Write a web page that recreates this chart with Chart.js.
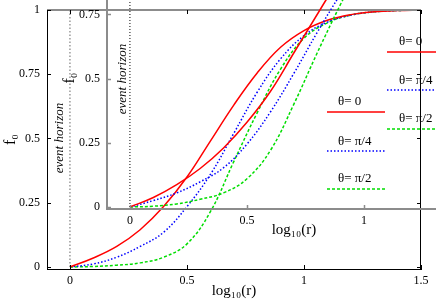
<!DOCTYPE html>
<html>
<head>
<meta charset="utf-8">
<script src="https://cdn.jsdelivr.net/npm/chart.js@4.4.1/dist/chart.umd.min.js"></script>
<style>
  html, body { margin: 0; padding: 0; background: #fff; overflow: hidden; }
  #wrap { position: relative; width: 436px; height: 305px; overflow: hidden; }
  #mainChart { position: absolute; left: 0; top: 0; }
  #insetChart { position: absolute; left: 47px; top: -24px; }
</style>
</head>
<body>
<div id="wrap">
  <canvas id="mainChart" width="436" height="305" style="width:436px;height:305px"></canvas>
  <canvas id="insetChart" width="444" height="265" style="width:444px;height:265px"></canvas>
</div>
<script>
// main plot: f0 against log10(r)
const logR = [0, 0.1, 0.2, 0.3, 0.4, 0.5, 0.6, 0.7, 0.8, 0.9, 1.0, 1.1, 1.2, 1.3, 1.4, 1.5];
const f0Theta0 = [0, 0.035, 0.08, 0.145, 0.235, 0.35, 0.49, 0.63, 0.755, 0.855, 0.92, 0.96, 0.982, 0.993, 0.998, 1.0];
const f0ThetaPi4 = [0, 0.012, 0.038, 0.08, 0.135, 0.235, 0.36, 0.52, 0.68, 0.81, 0.9, 0.953, 0.98, 0.993, 0.998, 1.0];
const f0ThetaPi2 = [0, 0.002, 0.007, 0.016, 0.038, 0.09, 0.215, 0.41, 0.6, 0.77, 0.89, 0.95, 0.98, 0.993, 0.998, 1.0];

// inset plot
const insetLogR = [0, 0.1, 0.2, 0.3, 0.4, 0.5, 0.6, 0.7, 0.8, 0.9, 1.0];
const insetTheta0 = [0, 0.037, 0.087, 0.15, 0.23, 0.33, 0.45, 0.6, 0.75, 0.9, 1.05];
const insetThetaPi4 = [0, 0.025, 0.055, 0.098, 0.153, 0.245, 0.37, 0.52, 0.68, 0.83, 0.97];
const insetThetaPi2 = [0, 0.003, 0.012, 0.03, 0.055, 0.11, 0.22, 0.4, 0.6, 0.79, 0.97];

const xTicks = [0, 0.5, 1, 1.5];
const yTicks = [0, 0.25, 0.5, 0.75, 1];
const insetYTicks = [0, 0.25, 0.5, 0.75];
const labels = ['θ= 0', 'θ= π/4', 'θ= π/2'];
const horizonLabel = 'event horizon';

const serif = 'Liberation Serif';
const colors = ['#ff0000', '#0000ff', '#00dd00'];
const dashes = [[], [1.5, 2], [3, 2]];

function pts(xs, ys) {
  return xs.map((x, i) => ({x: x, y: ys[i]}));
}

function curve(xs, ys, i) {
  return {
    data: pts(xs, ys),
    borderColor: colors[i],
    borderDash: dashes[i],
    borderWidth: 1.5,
    pointRadius: 0,
    showLine: true,
    tension: 0.4
  };
}

function axisTicks(list) {
  return s => { s.ticks = list.map(v => ({value: v})); };
}

// fixed axis sizes, no extra label padding so the plot box lands where it should
function fixX(h) {
  return s => { s.height = h; s.paddingLeft = 0; s.paddingRight = 0; };
}
function fixY(w) {
  return s => { s.width = w; s.paddingTop = 0; s.paddingBottom = 0; };
}

function legend(ctx, x0, textX, rows) {
  ctx.font = '13px "' + serif + '"';
  ctx.fillStyle = '#000';
  ctx.textAlign = 'left';
  ctx.textBaseline = 'middle';
  rows.forEach((r, i) => {
    ctx.fillText(labels[i], textX, r[0]);
    ctx.strokeStyle = colors[i];
    ctx.setLineDash(dashes[i]);
    ctx.lineWidth = 1.5;
    ctx.beginPath();
    ctx.moveTo(x0, r[1]);
    ctx.lineTo(r[2], r[1]);
    ctx.stroke();
  });
  ctx.setLineDash([]);
}

function vText(ctx, text, x, y, font) {
  ctx.save();
  ctx.translate(x, y);
  ctx.rotate(-Math.PI / 2);
  ctx.font = font;
  ctx.fillStyle = '#000';
  ctx.textAlign = 'center';
  ctx.textBaseline = 'middle';
  ctx.fillText(text, 0, 0);
  ctx.restore();
}

const mainDecor = {
  id: 'mainDecor',
  afterDraw(chart) {
    const {ctx, chartArea: a, scales: {x, y}} = chart;
    ctx.save();
    // top border grey, right border black
    ctx.strokeStyle = '#8c8c8c';
    ctx.lineWidth = 2;
    ctx.beginPath(); ctx.moveTo(a.left, a.top); ctx.lineTo(a.right, a.top); ctx.stroke();
    ctx.strokeStyle = '#000';
    ctx.lineWidth = 1;
    ctx.beginPath(); ctx.moveTo(a.right - 0.5, a.top); ctx.lineTo(a.right - 0.5, a.bottom); ctx.stroke();
    // inward ticks on all four sides
    ctx.beginPath();
    yTicks.forEach(v => {
      const py = Math.round(y.getPixelForValue(v)) + 0.5;
      ctx.moveTo(a.left, py); ctx.lineTo(a.left + 4, py);
      ctx.moveTo(a.right, py); ctx.lineTo(a.right - 4, py);
    });
    xTicks.forEach(v => {
      const px = Math.round(x.getPixelForValue(v)) + 0.5;
      ctx.moveTo(px, a.bottom); ctx.lineTo(px, a.bottom - 4);
      ctx.moveTo(px, a.top); ctx.lineTo(px, a.top + 4);
    });
    ctx.stroke();
    legend(ctx, 387, 399, [[42, 52, 436], [81, 90, 436], [119, 129, 436]]);
    vText(ctx, horizonLabel, 60, 138, 'italic 13px "' + serif + '"');
    ctx.restore();
  }
};

const insetDecor = {
  id: 'insetDecor',
  afterDraw(chart) {
    const {ctx, chartArea: a, scales: {x, y}} = chart;
    ctx.save();
    ctx.strokeStyle = '#8c8c8c';
    ctx.lineWidth = 1.5;
    ctx.beginPath();
    insetYTicks.forEach(v => {
      const py = Math.round(y.getPixelForValue(v)) + 0.5;
      ctx.moveTo(a.left - 1, py); ctx.lineTo(a.left + 4, py);
    });
    xTicks.forEach(v => {
      const px = Math.round(x.getPixelForValue(v)) + 0.5;
      ctx.moveTo(px, a.bottom + 1); ctx.lineTo(px, a.bottom - 4);
    });
    ctx.stroke();
    // page offset of this canvas is (47, -24)
    legend(ctx, 280, 291, [[126, 136, 338], [166, 175, 338], [203, 213, 338]]);
    vText(ctx, horizonLabel, 76, 103, 'italic 13px "' + serif + '"');
    vText(ctx, 'f₀', 23, 102, '16px "' + serif + '"');
    ctx.restore();
  }
};

const tickFont = {family: serif, size: 12};

new Chart(document.getElementById('mainChart'), {
  type: 'scatter',
  data: {
    datasets: [
      {
        data: [{x: 0, y: 0}, {x: 0, y: 1}],
        borderColor: '#9a9a9a',
        borderDash: [1.5, 2],
        borderWidth: 1.5,
        pointRadius: 0,
        showLine: true
      },
      curve(logR, f0Theta0, 0),
      curve(logR, f0ThetaPi4, 1),
      curve(logR, f0ThetaPi2, 2)
    ]
  },
  options: {
    responsive: false,
    animation: false,
    layout: {padding: {top: 10, right: 15, left: 0, bottom: 0}},
    plugins: {legend: {display: false}, tooltip: {enabled: false}},
    scales: {
      x: {
        type: 'linear',
        min: -0.098,
        max: 1.5,
        afterBuildTicks: axisTicks(xTicks),
        afterFit: fixX(36),
        grid: {display: false, drawTicks: false},
        border: {display: true, color: '#000', width: 1},
        ticks: {padding: 5, color: '#000', font: tickFont, maxRotation: 0, autoSkip: false, callback: v => String(v)},
        title: {display: true, text: 'log₁₀(r)', color: '#000', font: {family: serif, size: 15}, padding: {top: 0, bottom: 5}}
      },
      y: {
        type: 'linear',
        min: -0.0078,
        max: 1,
        afterBuildTicks: axisTicks(yTicks),
        afterFit: fixY(47),
        grid: {display: false, drawTicks: false},
        border: {display: true, color: '#000', width: 1},
        ticks: {padding: 7, color: '#000', font: tickFont, autoSkip: false, callback: v => String(v)},
        title: {display: true, text: 'f₀', color: '#000', font: {family: serif, size: 16}, padding: {top: 1, bottom: 0}}
      }
    }
  },
  plugins: [mainDecor]
});

new Chart(document.getElementById('insetChart'), {
  type: 'scatter',
  data: {
    datasets: [
      {
        data: [{x: 0, y: 0}, {x: 0, y: 0.9}],
        borderColor: '#000',
        borderDash: [1, 2],
        borderWidth: 1,
        pointRadius: 0,
        showLine: true
      },
      curve(insetLogR, insetTheta0, 0),
      curve(insetLogR, insetThetaPi4, 1),
      curve(insetLogR, insetThetaPi2, 2)
    ]
  },
  options: {
    responsive: false,
    animation: false,
    layout: {padding: {top: 0, right: 10, left: 0, bottom: 0}},
    plugins: {legend: {display: false}, tooltip: {enabled: false}},
    scales: {
      x: {
        type: 'linear',
        min: -0.098,
        max: 1.5,
        afterBuildTicks: axisTicks(xTicks),
        afterFit: fixX(32),
        grid: {display: false, drawTicks: false},
        border: {display: true, color: '#8c8c8c', width: 2},
        ticks: {padding: 5, color: '#000', font: tickFont, maxRotation: 0, autoSkip: false, callback: v => String(v)},
        title: {display: true, text: 'log₁₀(r)', color: '#000', font: {family: serif, size: 15}, padding: {top: 0, bottom: 2}}
      },
      y: {
        type: 'linear',
        min: -0.0078,
        max: 0.9,
        afterBuildTicks: axisTicks(insetYTicks),
        afterFit: fixY(60),
        grid: {display: false, drawTicks: false},
        border: {display: true, color: '#8c8c8c', width: 2},
        ticks: {padding: 7, color: '#000', font: tickFont, autoSkip: false, callback: v => String(v)}
      }
    }
  },
  plugins: [insetDecor]
});
</script>
</body>
</html>
